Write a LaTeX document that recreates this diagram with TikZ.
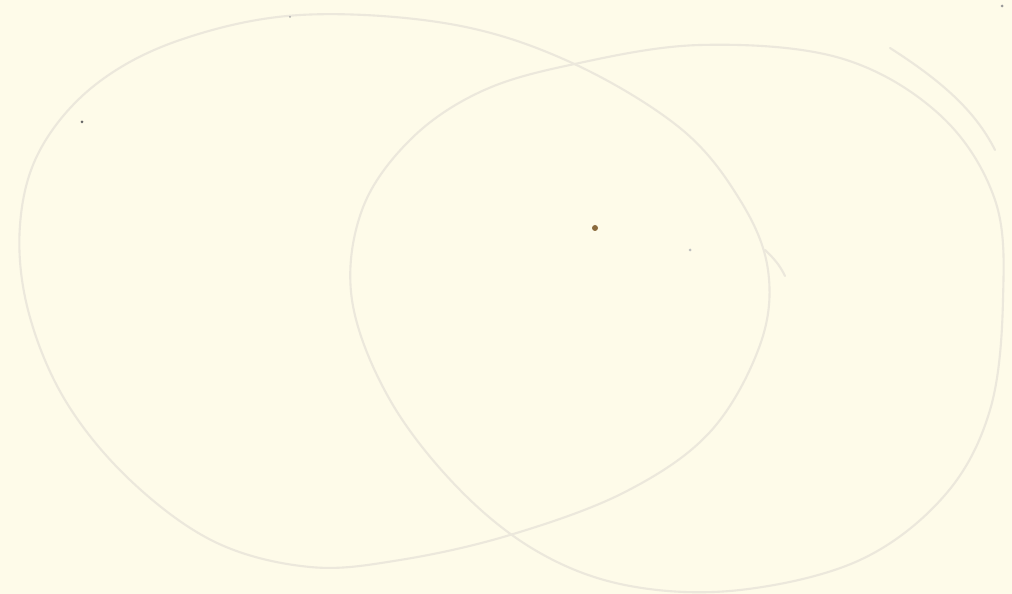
\documentclass[tikz,border=0pt]{standalone}
\definecolor{paper}{HTML}{FEFBE9}
\definecolor{pencil}{HTML}{ECE8DC}
\definecolor{speck}{HTML}{8A6A3C}
\tikzset{
  sketch/.style={draw=pencil, line width=1.2pt, line cap=round, line join=round},
}
\begin{document}
\begin{tikzpicture}[x=0.02cm, y=-0.02cm]
  \fill[paper] (0,0) rectangle (1012,594);
  \useasboundingbox (0,0) rectangle (1012,594);
  % left ellipse
  \draw[sketch] plot[smooth cycle, tension=0.6] coordinates {
    (300,15) (450,24) (570,62) (680,128) (740,200) (768,270)
    (760,345) (710,432) (625,492) (510,535) (400,560) (310,567)
    (215,542) (130,480) (65,400) (28,310) (20,225) (40,150)
    (95,85) (180,40)};
  % small hook at the right side
  \draw[sketch] (765,250) .. controls (778,262) and (782,270) .. (785,276);
  % right ellipse
  \draw[sketch] plot[smooth cycle, tension=0.6] coordinates {
    (570,65) (700,45) (840,58) (940,115) (995,200) (1003,300)
    (990,410) (945,495) (860,560) (740,590) (630,586) (540,553)
    (460,490) (390,400) (352,300) (362,210) (410,140) (480,92)};
  % second stroke near the top right
  \draw[sketch] (890,48) .. controls (940,80) and (975,110) .. (995,150);
  % specks
  \fill[speck] (595,228) circle (3);
  \fill[black!60] (82,122) circle (1.5);
  \fill[black!25] (690,250) circle (1.5);
  \fill[black!35] (290,17) circle (1);
  \fill[black!40] (1002,6) circle (1.5);
\end{tikzpicture}
\end{document}
